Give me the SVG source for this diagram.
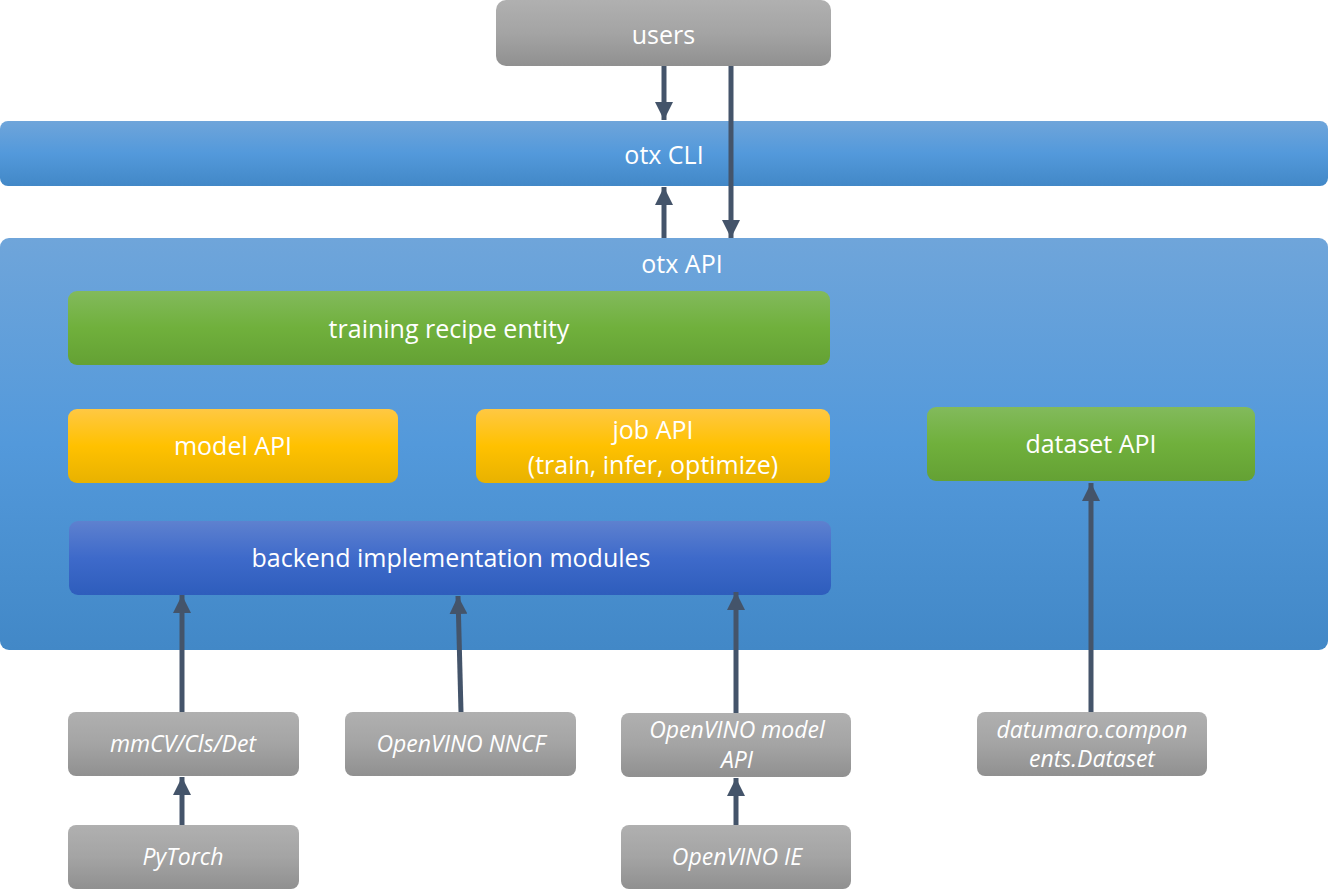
<svg xmlns="http://www.w3.org/2000/svg" width="1328" height="890" viewBox="0 0 1328 890">
<defs>
<linearGradient id="gBlue" x1="0" y1="0" x2="0" y2="1"><stop offset="0" stop-color="#6FA5DA"/><stop offset="0.5" stop-color="#5399DB"/><stop offset="1" stop-color="#4288C7"/></linearGradient>
<linearGradient id="gGreen" x1="0" y1="0" x2="0" y2="1"><stop offset="0" stop-color="#82BA5C"/><stop offset="0.5" stop-color="#70B03C"/><stop offset="1" stop-color="#64A134"/></linearGradient>
<linearGradient id="gYellow" x1="0" y1="0" x2="0" y2="1"><stop offset="0" stop-color="#FFC843"/><stop offset="0.5" stop-color="#FFC100"/><stop offset="1" stop-color="#E8B200"/></linearGradient>
<linearGradient id="gDark" x1="0" y1="0" x2="0" y2="1"><stop offset="0" stop-color="#5E81CF"/><stop offset="0.5" stop-color="#3E6ACA"/><stop offset="1" stop-color="#2E5DBC"/></linearGradient>
<linearGradient id="gGray" x1="0" y1="0" x2="0" y2="1"><stop offset="0" stop-color="#B0B0B0"/><stop offset="0.5" stop-color="#A4A4A4"/><stop offset="1" stop-color="#909090"/></linearGradient>
<marker id="ah" viewBox="0 0 10 10" refX="10" refY="5" markerWidth="3.6" markerHeight="3.6" orient="auto" markerUnits="strokeWidth"><path d="M0,0 L10,5 L0,10 z" fill="#44546A"/></marker>
<style>
.t{font-family:"Open Sans","Noto Sans","DejaVu Sans",sans-serif;fill:#fff;text-anchor:middle;dominant-baseline:central}
.big{font-size:25px}
.sm{font-size:23px;font-style:italic}
.c{stroke:#44546A;stroke-width:5;fill:none;marker-end:url(#ah)}
</style>
</defs>
<g id="users"><rect x="496" y="0" width="335" height="66" rx="10" fill="url(#gGray)"/><text class="t big" x="663.5" y="34">users</text></g>
<g id="otx-cli"><rect x="0" y="121" width="1328" height="65" rx="8" fill="url(#gBlue)"/><text class="t big" x="664" y="154">otx CLI</text></g>
<g id="otx-api"><rect x="0" y="238" width="1328" height="412" rx="9" fill="url(#gBlue)"/><text class="t big" x="682" y="263">otx API</text></g>
<g id="training-recipe"><rect x="68" y="291" width="762" height="74" rx="9" fill="url(#gGreen)"/><text class="t big" x="449" y="328">training recipe entity</text></g>
<g id="model-api"><rect x="68" y="409" width="330" height="74" rx="9" fill="url(#gYellow)"/><text class="t big" x="233" y="445">model API</text></g>
<g id="job-api"><rect x="476" y="409" width="354" height="74" rx="9" fill="url(#gYellow)"/><text class="t big" x="653" y="429">job API</text><text class="t big" x="653" y="464">(train, infer, optimize)</text></g>
<g id="dataset-api"><rect x="927" y="407" width="328" height="74" rx="9" fill="url(#gGreen)"/><text class="t big" x="1091" y="443">dataset API</text></g>
<g id="backend"><rect x="69" y="521" width="762" height="74" rx="9" fill="url(#gDark)"/><text class="t big" x="451" y="557">backend implementation modules</text></g>
<g id="mmcv"><rect x="68" y="712" width="231" height="64" rx="8" fill="url(#gGray)"/><text class="t sm" x="183" y="743">mmCV/Cls/Det</text></g>
<g id="nncf"><rect x="345" y="712" width="231" height="64" rx="8" fill="url(#gGray)"/><text class="t sm" x="461" y="743">OpenVINO NNCF</text></g>
<g id="ov-model-api"><rect x="621" y="713" width="230" height="64" rx="8" fill="url(#gGray)"/><text class="t sm" x="737" y="729">OpenVINO model</text><text class="t sm" x="737" y="759">API</text></g>
<g id="datumaro"><rect x="977" y="712" width="230" height="64" rx="8" fill="url(#gGray)"/><text class="t sm" x="1092" y="729">datumaro.compon</text><text class="t sm" x="1092" y="758">ents.Dataset</text></g>
<g id="pytorch"><rect x="68" y="825" width="231" height="64" rx="8" fill="url(#gGray)"/><text class="t sm" x="183" y="856">PyTorch</text></g>
<g id="ov-ie"><rect x="621" y="825" width="230" height="64" rx="8" fill="url(#gGray)"/><text class="t sm" x="737" y="856">OpenVINO IE</text></g>
<g id="connectors">
<line class="c" x1="664" y1="66" x2="664" y2="120"/>
<line class="c" x1="731" y1="66" x2="731" y2="238"/>
<line class="c" x1="664" y1="238" x2="664" y2="187"/>
<line class="c" x1="182" y1="712" x2="182" y2="595"/>
<line class="c" x1="461" y1="712" x2="458" y2="596"/>
<line class="c" x1="736" y1="713" x2="736" y2="592"/>
<line class="c" x1="1091" y1="712" x2="1091" y2="483"/>
<line class="c" x1="182" y1="825" x2="182" y2="777"/>
<line class="c" x1="736" y1="825" x2="736" y2="778"/>
</g>
</svg>
